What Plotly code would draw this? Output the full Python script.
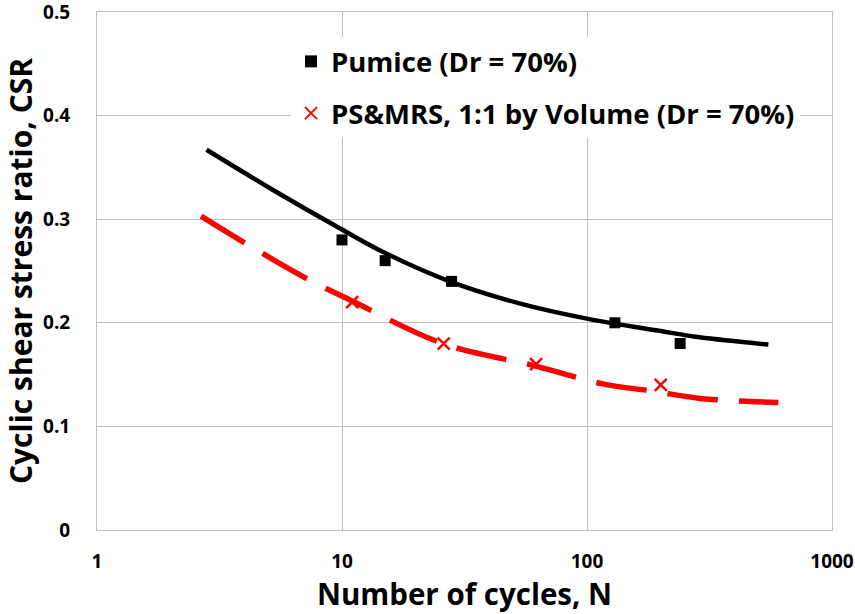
import plotly.graph_objects as go

# Measured data
pumice_n = [10, 15, 28, 130, 240]
pumice_csr = [0.28, 0.26, 0.24, 0.20, 0.18]
mix_n = [11, 26, 62, 200]
mix_csr = [0.22, 0.18, 0.16, 0.14]

# Trend curves
pumice_fit_n = [2.8, 5.25, 10, 14.8, 27.5, 52.5, 100, 200, 288, 550]
pumice_fit_csr = [0.367, 0.328, 0.290, 0.268, 0.240, 0.219, 0.204, 0.192, 0.186, 0.179]
mix_fit_n = [2.66, 4.02, 7.26, 10.8, 25.8, 62.5, 116, 186, 290, 604]
mix_fit_csr = [0.303, 0.277, 0.242, 0.222, 0.180, 0.158, 0.141, 0.134, 0.127, 0.123]

x_tickvals = [1, 10, 100, 1000]
x_ticktext = ["1", "10", "100", "1000"]
y_tickvals = [0, 0.1, 0.2, 0.3, 0.4, 0.5]
y_ticktext = ["0", "0.1", "0.2", "0.3", "0.4", "0.5"]

FONT = "Open Sans"
fig = go.Figure()

fig.add_trace(go.Scatter(x=pumice_fit_n, y=pumice_fit_csr, mode="lines",
                         line=dict(color="black", width=4.5, shape="spline"),
                         showlegend=False, hoverinfo="skip"))
fig.add_trace(go.Scatter(x=mix_fit_n, y=mix_fit_csr, mode="lines",
                         line=dict(color="#ff0000", width=5.5, shape="spline", dash="51px,21px"),
                         showlegend=False, hoverinfo="skip"))
fig.add_trace(go.Scatter(x=pumice_n, y=pumice_csr, mode="markers", name="Pumice (Dr = 70%)",
                         legendgroup="a",
                         marker=dict(symbol="square", size=11, color="black")))
fig.add_trace(go.Scatter(x=mix_n, y=mix_csr, mode="markers", name="PS&MRS, 1:1 by Volume (Dr = 70%)",
                         legendgroup="b",
                         marker=dict(symbol="x-thin", size=12, color="#ff0000",
                                     line=dict(color="#ff0000", width=2.5))))

axis_common = dict(showgrid=True, gridcolor="#bfbfbf", gridwidth=1,
                   showline=True, linecolor="#bfbfbf", linewidth=1, mirror=True,
                   ticks="", zeroline=False, automargin=False,
                   ticklabeloverflow="allow",
                   tickfont=dict(family=FONT, size=19, color="black", weight="bold"))

fig.update_xaxes(type="log", range=[0, 3], tickvals=x_tickvals, ticktext=x_ticktext,
                 ticklabelstandoff=14,
                 title=dict(text="Number of cycles, N", standoff=10,
                            font=dict(family=FONT, size=29.5, color="black", weight="bold")),
                 **axis_common)
fig.update_yaxes(range=[0, 0.5], tickvals=y_tickvals, ticktext=y_ticktext,
                 ticklabelstandoff=22,
                 title=dict(text="Cyclic shear stress ratio, CSR", standoff=2,
                            font=dict(family=FONT, size=30, color="black", weight="bold")),
                 **axis_common)

fig.update_layout(
    width=855, height=614,
    margin=dict(l=97, r=23, t=12, b=84),
    plot_bgcolor="white", paper_bgcolor="white",
    legend=dict(x=(291 - 97) / 735, y=(530 - 37) / 518, xanchor="left", yanchor="top",
                bgcolor="white", borderwidth=0, traceorder="grouped", tracegroupgap=13,
                font=dict(family=FONT, size=27.5, color="black", weight="bold"),
                itemsizing="constant"),
)

fig.write_html("out.html")
